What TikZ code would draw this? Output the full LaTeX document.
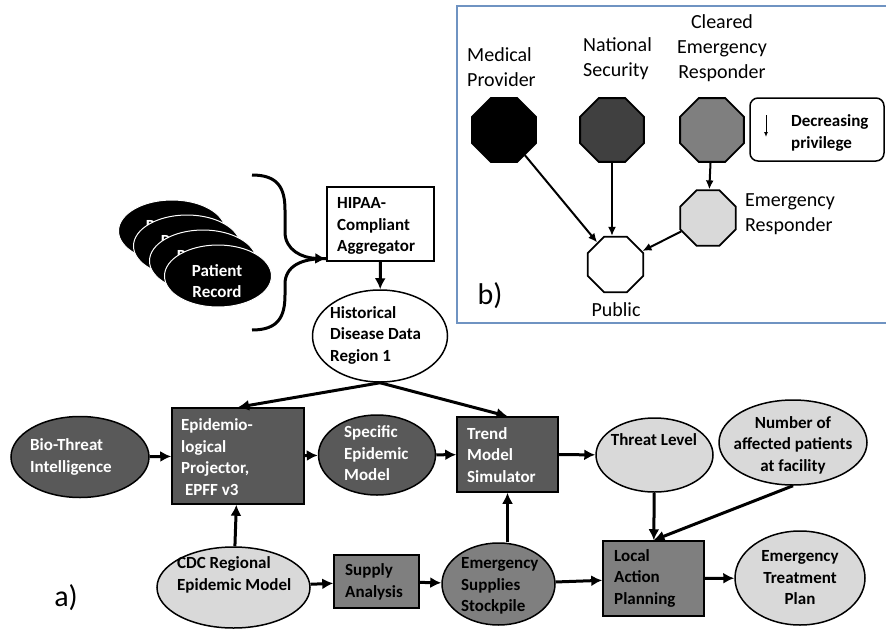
\documentclass[tikz,border=0pt]{standalone}
\usepackage{fontspec}
\setmainfont{Carlito}
\usetikzlibrary{shapes.geometric,arrows.meta}
\definecolor{darkfill}{HTML}{595959}
\definecolor{midfill}{HTML}{7F7F7F}
\definecolor{lightfill}{HTML}{D9D9D9}
\definecolor{nsfill}{HTML}{404040}
\definecolor{framecol}{HTML}{6F93C2}

\begin{document}
\begin{tikzpicture}[x=1pt,y=-1pt,
txt/.style={
font=\fontsize{17}{21.5}\selectfont\bfseries,
align=left,
inner sep=0pt,
anchor=west},
ctxt/.style={
font=\fontsize{17}{21.5}\selectfont\bfseries,
align=center,
inner sep=0pt},
lbl/.style={
font=\fontsize{20}{25}\selectfont,
align=left,
inner sep=0pt},
big/.style={font=\fontsize{30}{36}\selectfont, inner sep=0pt},
ell/.style={draw, ellipse, line width=1.5pt, inner sep=0pt},
box/.style={draw, rectangle, line width=1.5pt, inner sep=0pt},
rec/.style={
draw=white,
fill=black,
ellipse,
line width=1pt,
minimum width=107pt,
minimum height=62pt,
inner sep=0pt},
rectxt/.style={
text=white,
align=center,
inner sep=0pt,
font=\fontsize{17}{21.5}\selectfont\bfseries},
octo/.style={
draw,
regular polygon,
regular polygon sides=8,
line width=1.8pt,
inner sep=0pt,
minimum size=69pt},
arr/.style={line width=3pt, -{Latex[length=11pt,width=11pt]}},
barr/.style={line width=2pt, -{Latex[length=9pt,width=8pt]}}
]
\useasboundingbox (0,0) rectangle (886,629);

\node[rec] (rec4) at (172,231) {};
\node[rectxt] (rec4-t) at (171,236) {Patient\\Record};
\node[rec] (rec3) at (187,246) {};
\node[rectxt] (rec3-t) at (186,251) {Patient\\Record};
\node[rec] (rec2) at (203,261) {};
\node[rectxt] (rec2-t) at (202,266) {Patient\\Record};
\node[rec] (rec1) at (218,276) {};
\node[rectxt] (rec1-t) at (217,281) {Patient\\Record};

\node[box, fill=white, minimum width=107pt, minimum height=74pt] (hipaa) at (380.5,224) {};
\node[txt] (hipaa-t) at (337,226) {HIPAA-\\Compliant\\Aggregator};

\coordinate (bracetop) at (252,175);
\coordinate (bracebot) at (252,330);
\draw[line width=3pt, -{Latex[length=11pt,width=11pt]}] (bracetop) .. controls (278,175) and (285,188) .. (285,210) -- (285,232) .. controls (285,250) and (302,258) .. ([yshift=3pt]hipaa.south west);
\draw[line width=3pt] (bracebot) .. controls (278,330) and (285,317) .. (285,295) -- (285,284) .. controls (285,266) and (302,258) .. ([yshift=3pt]hipaa.south west);

\node[ell, fill=white, minimum width=135pt, minimum height=92pt] (hist) at (380,336) {};
\node[txt] (hist-t) at (330,335) {Historical\\Disease Data\\Region 1};

\node[ell, fill=darkfill, minimum width=138pt, minimum height=81pt] (bio) at (80,457) {};
\node[txt, text=white] (bio-t) at (30,457) {Bio-Threat\\Intelligence};
\node[box, fill=darkfill, minimum width=132pt, minimum height=96pt] (epi) at (238,456) {};
\node[txt, text=white] (epi-t) at (181,457) {Epidemio-\\logical\\Projector,\\\ EPFF v3};
\node[ell, fill=darkfill, minimum width=117pt, minimum height=80pt] (spec) at (377,455) {};
\node[txt, text=white] (spec-t) at (344,453.5) {Specific\\Epidemic\\Model};
\node[box, fill=darkfill, minimum width=101pt, minimum height=75pt] (trend) at (507.5,454.5) {};
\node[txt, text=white] (trend-t) at (467,455) {Trend\\Model\\Simulator};
\node[ell, fill=lightfill, minimum width=117pt, minimum height=74pt] (threat) at (654.5,455) {};
\node[ctxt] (threat-t) at (654,440) {Threat Level};
\node[ell, fill=lightfill, minimum width=148pt, minimum height=85pt] (num) at (793,442.5) {};
\node[ctxt] (num-t) at (793,445) {Number of\\affected patients\\at facility};

\node[ell, fill=lightfill, minimum width=153pt, minimum height=81pt] (cdc) at (233.5,587.5) {};
\node[txt] (cdc-t) at (177,575) {CDC Regional\\Epidemic Model};
\node[box, fill=midfill, minimum width=85pt, minimum height=53pt] (supply) at (376.5,581.5) {};
\node[txt] (supply-t) at (345,582) {Supply\\Analysis};
\node[ell, fill=midfill, minimum width=113pt, minimum height=82pt] (stock) at (498.5,584) {};
\node[txt] (stock-t) at (461,586) {Emergency\\Supplies\\Stockpile};
\node[box, fill=midfill, minimum width=101pt, minimum height=75pt] (local) at (653.5,578.5) {};
\node[txt] (local-t) at (614,578) {Local\\Action\\Planning};
\node[ell, fill=lightfill, minimum width=130pt, minimum height=94pt] (etp) at (800,578) {};
\node[ctxt] (etp-t) at (800,578) {Emergency\\Treatment\\Plan};

\node[big] (alabel) at (66,598) {a)};

\draw[arr] (hipaa) -- (hist);
\draw[arr] (hist.south) -- (epi.north);
\draw[arr] (hist.south) -- (trend.north);
\draw[arr] (bio) -- (epi);
\draw[arr] (epi) -- (spec);
\draw[arr] (spec) -- (trend);
\draw[arr] (trend) -- (threat);
\draw[arr] (threat) -- (local);
\draw[arr] (num.south) -- (local.north);
\draw[arr] (local) -- (etp);
\draw[arr] (cdc) -- (epi);
\draw[arr] (cdc) -- (supply);
\draw[arr] (supply) -- (stock);
\draw[arr] (stock) -- (local);
\draw[arr] (trend |- stock.north) -- (trend.south);

\draw[framecol, line width=1.2pt] (886,6) -| (457,323) -- (886,323);

\node[octo, fill=black] (med) at (504,130) {};
\node[octo, fill=nsfill] (natsec) at (612,130) {};
\node[octo, fill=midfill] (cleared) at (712,130) {};
\node[octo, fill=lightfill, minimum size=60pt] (emresp) at (708,218) {};
\node[octo, fill=white, minimum size=60pt] (public) at (615.5,264.5) {};

\node[lbl, anchor=west] (med-l) at (467,67) {Medical\\Provider};
\node[lbl, anchor=west] (natsec-l) at (583,59) {National\\Security};
\node[lbl, align=center] (cleared-l) at (722,48) {Cleared\\Emergency\\Responder};
\node[lbl, anchor=west] (emresp-l) at (745,214) {Emergency\\Responder};
\node[lbl] (public-l) at (616,310) {Public};
\node[big] (blabel) at (490,296) {b)};

\node[draw, rounded corners=8pt, line width=1.5pt, minimum width=134pt, minimum height=63pt] (legend) at (817,129.5) {};
\node[txt] (legend-t) at (791,133) {Decreasing\\privilege};
\coordinate (legtop) at (766,115);
\coordinate (legbot) at (766,137);
\draw[line width=1pt, -{Latex[length=5pt,width=4pt]}] (legtop) -- (legbot);

\draw[barr] (med) -- (public);
\draw[barr] (natsec.south) -- (natsec.south |- public.north);
\draw[barr] (cleared) -- (emresp);
\draw[barr] (emresp) -- (public);
\end{tikzpicture}
\end{document}
